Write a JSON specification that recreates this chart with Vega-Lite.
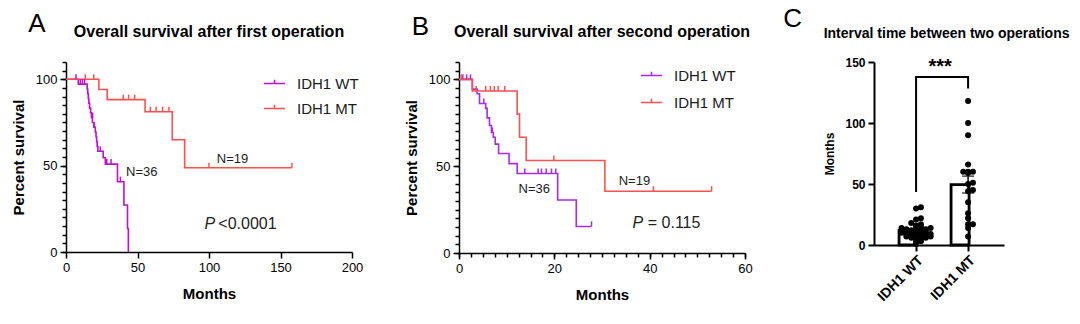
{
  "$schema": "https://vega.github.io/schema/vega-lite/v6.json",
  "autosize": {"type": "pad"},
  "padding": {"left": 11, "top": 6, "right": 0, "bottom": 0},
  "background": "white",
  "config": {
    "font": "Liberation Sans",
    "view": {"stroke": null},
    "axis": {"domainColor": "black", "domainWidth": 1.5, "tickColor": "black", "tickWidth": 1.5, "labelColor": "black", "titleColor": "black", "grid": false, "labelFont": "Liberation Sans", "titleFont": "Liberation Sans", "labelFontSize": 13, "titleFontSize": 15, "titleFontWeight": "bold", "labelPadding": 3, "labelFlush": false}
  },
  "datasets": {
    "kmA": [
      {"group": "IDH1 WT", "time": 0, "surv": 100}, {"group": "IDH1 WT", "time": 8.6, "surv": 97.2}, {"group": "IDH1 WT", "time": 14.8, "surv": 94.4}, {"group": "IDH1 WT", "time": 15.2, "surv": 91.7}, {"group": "IDH1 WT", "time": 15.6, "surv": 88.9}, {"group": "IDH1 WT", "time": 16, "surv": 86.1}, {"group": "IDH1 WT", "time": 16.5, "surv": 83.3}, {"group": "IDH1 WT", "time": 17.2, "surv": 80.6}, {"group": "IDH1 WT", "time": 17.8, "surv": 77.8}, {"group": "IDH1 WT", "time": 18.5, "surv": 75}, {"group": "IDH1 WT", "time": 19.5, "surv": 72.2}, {"group": "IDH1 WT", "time": 20.5, "surv": 69.4}, {"group": "IDH1 WT", "time": 21, "surv": 66.7}, {"group": "IDH1 WT", "time": 21.4, "surv": 63.9}, {"group": "IDH1 WT", "time": 21.8, "surv": 61.1}, {"group": "IDH1 WT", "time": 22.3, "surv": 58.3}, {"group": "IDH1 WT", "time": 26, "surv": 54.6}, {"group": "IDH1 WT", "time": 27.5, "surv": 50.9}, {"group": "IDH1 WT", "time": 36, "surv": 40.7}, {"group": "IDH1 WT", "time": 40.5, "surv": 27.2}, {"group": "IDH1 WT", "time": 43, "surv": 13.6}, {"group": "IDH1 WT", "time": 43.6, "surv": 0},
      {"group": "IDH1 MT", "time": 0, "surv": 100}, {"group": "IDH1 MT", "time": 23, "surv": 94.1}, {"group": "IDH1 MT", "time": 28.8, "surv": 88.2}, {"group": "IDH1 MT", "time": 55.3, "surv": 81.2}, {"group": "IDH1 MT", "time": 74.3, "surv": 65}, {"group": "IDH1 MT", "time": 83, "surv": 48.8}, {"group": "IDH1 MT", "time": 158, "surv": 48.8}
    ],
    "censA": [
      {"group": "IDH1 WT", "time": 7, "surv": 100}, {"group": "IDH1 WT", "time": 10, "surv": 97.2}, {"group": "IDH1 WT", "time": 11.5, "surv": 97.2}, {"group": "IDH1 WT", "time": 13, "surv": 97.2}, {"group": "IDH1 WT", "time": 18.6, "surv": 77.8}, {"group": "IDH1 WT", "time": 19.8, "surv": 72.2}, {"group": "IDH1 WT", "time": 24, "surv": 58.3}, {"group": "IDH1 WT", "time": 28.5, "surv": 50.9}, {"group": "IDH1 WT", "time": 31.5, "surv": 50.9}, {"group": "IDH1 WT", "time": 38, "surv": 40.7},
      {"group": "IDH1 MT", "time": 13.5, "surv": 100}, {"group": "IDH1 MT", "time": 19.4, "surv": 100}, {"group": "IDH1 MT", "time": 40, "surv": 88.2}, {"group": "IDH1 MT", "time": 43.8, "surv": 88.2}, {"group": "IDH1 MT", "time": 48, "surv": 88.2}, {"group": "IDH1 MT", "time": 59, "surv": 81.2}, {"group": "IDH1 MT", "time": 63, "surv": 81.2}, {"group": "IDH1 MT", "time": 67.5, "surv": 81.2}, {"group": "IDH1 MT", "time": 72, "surv": 81.2}, {"group": "IDH1 MT", "time": 100, "surv": 48.8}, {"group": "IDH1 MT", "time": 158, "surv": 48.8}
    ],
    "notesA": [
      {"kind": "letter", "label": "A", "time": -20.4, "surv": 127.1},
      {"kind": "heading", "label": "Overall survival after first operation", "time": 100, "surv": 124.4},
      {"kind": "n", "label": "N=36", "time": 42, "surv": 46.1},
      {"kind": "n", "label": "N=19", "time": 105.5, "surv": 53.8},
      {"kind": "p", "label": "P", "time": 96.8, "surv": 16.2},
      {"kind": "pval", "label": "<0.0001", "time": 106.5, "surv": 16.2}
    ],
    "kmB": [
      {"group": "IDH1 WT", "time": 0, "surv": 100}, {"group": "IDH1 WT", "time": 2.8, "surv": 94.4}, {"group": "IDH1 WT", "time": 3.8, "surv": 91.7}, {"group": "IDH1 WT", "time": 4.3, "surv": 86.1}, {"group": "IDH1 WT", "time": 5.6, "surv": 83.3}, {"group": "IDH1 WT", "time": 5.9, "surv": 77.8}, {"group": "IDH1 WT", "time": 6.4, "surv": 73.4}, {"group": "IDH1 WT", "time": 6.8, "surv": 69.4}, {"group": "IDH1 WT", "time": 7.2, "surv": 66.7}, {"group": "IDH1 WT", "time": 7.6, "surv": 62.7}, {"group": "IDH1 WT", "time": 8.3, "surv": 57.3}, {"group": "IDH1 WT", "time": 10.5, "surv": 51.5}, {"group": "IDH1 WT", "time": 12.2, "surv": 45.8}, {"group": "IDH1 WT", "time": 20.7, "surv": 30.5}, {"group": "IDH1 WT", "time": 24.6, "surv": 15.3}, {"group": "IDH1 WT", "time": 27.8, "surv": 15.3},
      {"group": "IDH1 MT", "time": 0, "surv": 100}, {"group": "IDH1 MT", "time": 2.8, "surv": 93.3}, {"group": "IDH1 MT", "time": 12.2, "surv": 80}, {"group": "IDH1 MT", "time": 12.7, "surv": 66.7}, {"group": "IDH1 MT", "time": 14.1, "surv": 53.3}, {"group": "IDH1 MT", "time": 30.6, "surv": 35.6}, {"group": "IDH1 MT", "time": 53, "surv": 35.6}
    ],
    "censB": [
      {"group": "IDH1 WT", "time": 0.8, "surv": 100}, {"group": "IDH1 WT", "time": 1.6, "surv": 100}, {"group": "IDH1 WT", "time": 2.4, "surv": 100}, {"group": "IDH1 WT", "time": 5.2, "surv": 86.1}, {"group": "IDH1 WT", "time": 7.0, "surv": 69.4}, {"group": "IDH1 WT", "time": 13.8, "surv": 45.8}, {"group": "IDH1 WT", "time": 16.6, "surv": 45.8}, {"group": "IDH1 WT", "time": 17.3, "surv": 45.8}, {"group": "IDH1 WT", "time": 18.3, "surv": 45.8}, {"group": "IDH1 WT", "time": 19.4, "surv": 45.8}, {"group": "IDH1 WT", "time": 20.3, "surv": 45.8}, {"group": "IDH1 WT", "time": 27.8, "surv": 15.3},
      {"group": "IDH1 MT", "time": 0.5, "surv": 100}, {"group": "IDH1 MT", "time": 3.6, "surv": 93.3}, {"group": "IDH1 MT", "time": 5.6, "surv": 93.3}, {"group": "IDH1 MT", "time": 6.6, "surv": 93.3}, {"group": "IDH1 MT", "time": 7.4, "surv": 93.3}, {"group": "IDH1 MT", "time": 8.2, "surv": 93.3}, {"group": "IDH1 MT", "time": 9.6, "surv": 93.3}, {"group": "IDH1 MT", "time": 19.9, "surv": 53.3}, {"group": "IDH1 MT", "time": 40.8, "surv": 35.6}, {"group": "IDH1 MT", "time": 53, "surv": 35.6}
    ],
    "notesB": [
      {"kind": "letter", "label": "B", "time": -8.1, "surv": 125.5},
      {"kind": "heading", "label": "Overall survival after second operation", "time": 30, "surv": 124.3},
      {"kind": "n", "label": "N=36", "time": 12.5, "surv": 36.6},
      {"kind": "n", "label": "N=19", "time": 33.5, "surv": 41.4},
      {"kind": "p", "label": "P", "time": 36.4, "surv": 17},
      {"kind": "pval", "label": "= 0.115", "time": 39.6, "surv": 17}
    ],
    "intervals": [
      {"group": "IDH1 WT", "months": 31}, {"group": "IDH1 WT", "months": 30}, {"group": "IDH1 WT", "months": 22}, {"group": "IDH1 WT", "months": 21}, {"group": "IDH1 WT", "months": 18}, {"group": "IDH1 WT", "months": 17}, {"group": "IDH1 WT", "months": 16}, {"group": "IDH1 WT", "months": 15}, {"group": "IDH1 WT", "months": 15}, {"group": "IDH1 WT", "months": 14}, {"group": "IDH1 WT", "months": 14}, {"group": "IDH1 WT", "months": 13}, {"group": "IDH1 WT", "months": 13}, {"group": "IDH1 WT", "months": 12}, {"group": "IDH1 WT", "months": 12}, {"group": "IDH1 WT", "months": 12}, {"group": "IDH1 WT", "months": 11}, {"group": "IDH1 WT", "months": 11}, {"group": "IDH1 WT", "months": 11}, {"group": "IDH1 WT", "months": 10}, {"group": "IDH1 WT", "months": 10}, {"group": "IDH1 WT", "months": 10}, {"group": "IDH1 WT", "months": 9}, {"group": "IDH1 WT", "months": 9}, {"group": "IDH1 WT", "months": 9}, {"group": "IDH1 WT", "months": 8}, {"group": "IDH1 WT", "months": 8}, {"group": "IDH1 WT", "months": 8}, {"group": "IDH1 WT", "months": 7}, {"group": "IDH1 WT", "months": 7}, {"group": "IDH1 WT", "months": 6}, {"group": "IDH1 WT", "months": 6}, {"group": "IDH1 WT", "months": 5}, {"group": "IDH1 WT", "months": 4}, {"group": "IDH1 WT", "months": 3}, {"group": "IDH1 WT", "months": 2},
      {"group": "IDH1 MT", "months": 118}, {"group": "IDH1 MT", "months": 100}, {"group": "IDH1 MT", "months": 90}, {"group": "IDH1 MT", "months": 66}, {"group": "IDH1 MT", "months": 60}, {"group": "IDH1 MT", "months": 60}, {"group": "IDH1 MT", "months": 60}, {"group": "IDH1 MT", "months": 59}, {"group": "IDH1 MT", "months": 51}, {"group": "IDH1 MT", "months": 50}, {"group": "IDH1 MT", "months": 45}, {"group": "IDH1 MT", "months": 44}, {"group": "IDH1 MT", "months": 35}, {"group": "IDH1 MT", "months": 26}, {"group": "IDH1 MT", "months": 22}, {"group": "IDH1 MT", "months": 17}, {"group": "IDH1 MT", "months": 17}, {"group": "IDH1 MT", "months": 14}, {"group": "IDH1 MT", "months": 7}
    ],
    "bracket": [
      {"group": "IDH1 WT", "months": 43.5, "step": 1},
      {"group": "IDH1 WT", "months": 137.7, "step": 2},
      {"group": "IDH1 MT", "months": 137.7, "step": 3},
      {"group": "IDH1 MT", "months": 128.2, "step": 4}
    ],
    "notesC": [
      {"kind": "letter", "label": "C", "group": "IDH1 WT", "months": 178.5},
      {"kind": "heading", "label": "Interval time between two operations", "group": "IDH1 WT", "months": 169.6},
      {"kind": "stars", "label": "***", "group": "IDH1 WT", "months": 145.5}
    ],
    "blank": [{"none": 0}]
  },
  "hconcat": [
    {
      "width": 286,
      "height": 190,
      "resolve": {"axis": {"y": "independent"}},
      "layer": [
        {
          "data": {"name": "kmA"},
          "mark": {"type": "line", "interpolate": "step-after", "strokeWidth": 1.6},
          "encoding": {
            "x": {"field": "time", "type": "quantitative", "scale": {"domain": [0, 200], "nice": false}, "axis": {"values": [0, 50, 100, 150, 200], "title": "Months", "tickSize": 6, "titlePadding": 12}},
            "y": {"field": "surv", "type": "quantitative", "scale": {"domain": [0, 110], "nice": false}, "axis": {"values": [0, 50, 100], "tickSize": 6, "title": "Percent survival", "titlePadding": 8.5, "orient": "left"}},
            "color": {"field": "group", "type": "nominal", "scale": {"domain": ["IDH1 WT", "IDH1 MT"], "range": ["#C010D0", "#FF5050"]}, "legend": {"orient": "none", "legendX": 197, "legendY": 10, "title": null, "symbolType": "M-1,0H1M0,0V-0.35", "symbolSize": 441, "symbolStrokeWidth": 1.5, "symbolFillColor": "transparent", "labelFontSize": 15, "labelFont": "Liberation Sans", "labelColor": "#1a1a1a", "labelOffset": 11, "rowPadding": 5}}
          }
        },
        {
          "data": {"name": "censA"},
          "mark": {"type": "point", "shape": "M0,0V-1", "filled": false, "size": 100, "strokeWidth": 1.5, "opacity": 1},
          "encoding": {
            "x": {"field": "time", "type": "quantitative"},
            "y": {"field": "surv", "type": "quantitative", "axis": {"values": [0, 5, 10, 15, 20, 25, 30, 35, 40, 45, 50, 55, 60, 65, 70, 75, 80, 85, 90, 95, 100, 105, 110], "labels": false, "domain": false, "title": null, "tickSize": 4, "orient": "left"}},
            "color": {"field": "group", "type": "nominal", "legend": null}
          }
        },
        {
          "data": {"name": "notesA"},
          "transform": [{"filter": "datum.kind === 'letter'"}],
          "mark": {"type": "text", "fontSize": 26, "align": "center", "baseline": "alphabetic", "color": "black"},
          "encoding": {"x": {"field": "time", "type": "quantitative"}, "y": {"field": "surv", "type": "quantitative", "axis": null}, "text": {"field": "label"}}
        },
        {
          "data": {"name": "notesA"},
          "transform": [{"filter": "datum.kind === 'heading'"}],
          "mark": {"type": "text", "fontSize": 16, "fontWeight": "bold", "align": "center", "baseline": "alphabetic", "color": "black"},
          "encoding": {"x": {"field": "time", "type": "quantitative"}, "y": {"field": "surv", "type": "quantitative", "axis": null}, "text": {"field": "label"}}
        },
        {
          "data": {"name": "notesA"},
          "transform": [{"filter": "datum.kind === 'n'"}],
          "mark": {"type": "text", "fontSize": 13, "align": "left", "baseline": "middle", "color": "#222"},
          "encoding": {"x": {"field": "time", "type": "quantitative"}, "y": {"field": "surv", "type": "quantitative", "axis": null}, "text": {"field": "label"}}
        },
        {
          "data": {"name": "notesA"},
          "transform": [{"filter": "datum.kind === 'p'"}],
          "mark": {"type": "text", "fontSize": 16, "fontStyle": "italic", "align": "left", "baseline": "middle", "color": "#222"},
          "encoding": {"x": {"field": "time", "type": "quantitative"}, "y": {"field": "surv", "type": "quantitative", "axis": null}, "text": {"field": "label"}}
        },
        {
          "data": {"name": "notesA"},
          "transform": [{"filter": "datum.kind === 'pval'"}],
          "mark": {"type": "text", "fontSize": 16, "align": "left", "baseline": "middle", "color": "#222"},
          "encoding": {"x": {"field": "time", "type": "quantitative"}, "y": {"field": "surv", "type": "quantitative", "axis": null}, "text": {"field": "label"}}
        }
      ]
    },
    {
      "width": 87,
      "height": 10,
      "data": {"name": "blank"},
      "mark": {"type": "point", "opacity": 0, "size": 1},
      "encoding": {}
    },
    {
      "width": 286,
      "height": 191,
      "resolve": {"axis": {"y": "independent", "x": "independent"}},
      "layer": [
        {
          "data": {"name": "kmB"},
          "mark": {"type": "line", "interpolate": "step-after", "strokeWidth": 1.6},
          "encoding": {
            "x": {"field": "time", "type": "quantitative", "scale": {"domain": [0, 60], "nice": false}, "axis": {"values": [0, 20, 40, 60], "tickSize": 6, "title": "Months", "titlePadding": 12, "orient": "bottom"}},
            "y": {"field": "surv", "type": "quantitative", "scale": {"domain": [0, 110], "nice": false}, "axis": {"values": [0, 50, 100], "tickSize": 6, "title": "Percent survival", "titlePadding": 8.5, "orient": "left"}},
            "color": {"field": "group", "type": "nominal", "scale": {"domain": ["IDH1 WT", "IDH1 MT"], "range": ["#A62AF0", "#FF5050"]}, "legend": {"orient": "none", "legendX": 181, "legendY": 2, "title": null, "symbolType": "M-1,0H1M0,0V-0.35", "symbolSize": 441, "symbolStrokeWidth": 1.5, "symbolFillColor": "transparent", "labelFontSize": 15, "labelFont": "Liberation Sans", "labelColor": "#1a1a1a", "labelOffset": 11, "rowPadding": 7}}
          }
        },
        {
          "data": {"name": "censB"},
          "mark": {"type": "point", "shape": "M0,0V-1", "filled": false, "size": 100, "strokeWidth": 1.5, "opacity": 1},
          "encoding": {
            "x": {"field": "time", "type": "quantitative", "axis": {"values": [0, 2.5, 5, 7.5, 10, 12.5, 15, 17.5, 20, 22.5, 25, 27.5, 30, 32.5, 35, 37.5, 40, 42.5, 45, 47.5, 50, 52.5, 55, 57.5, 60], "labels": false, "domain": false, "title": null, "tickSize": 4, "orient": "bottom"}},
            "y": {"field": "surv", "type": "quantitative", "axis": {"values": [0, 5, 10, 15, 20, 25, 30, 35, 40, 45, 50, 55, 60, 65, 70, 75, 80, 85, 90, 95, 100, 105, 110], "labels": false, "domain": false, "title": null, "tickSize": 4, "orient": "left"}},
            "color": {"field": "group", "type": "nominal", "legend": null}
          }
        },
        {
          "data": {"name": "notesB"},
          "transform": [{"filter": "datum.kind === 'letter'"}],
          "mark": {"type": "text", "fontSize": 26, "align": "center", "baseline": "alphabetic", "color": "black"},
          "encoding": {"x": {"field": "time", "type": "quantitative", "axis": null}, "y": {"field": "surv", "type": "quantitative", "axis": null}, "text": {"field": "label"}}
        },
        {
          "data": {"name": "notesB"},
          "transform": [{"filter": "datum.kind === 'heading'"}],
          "mark": {"type": "text", "fontSize": 16, "fontWeight": "bold", "align": "center", "baseline": "alphabetic", "color": "black"},
          "encoding": {"x": {"field": "time", "type": "quantitative", "axis": null}, "y": {"field": "surv", "type": "quantitative", "axis": null}, "text": {"field": "label"}}
        },
        {
          "data": {"name": "notesB"},
          "transform": [{"filter": "datum.kind === 'n'"}],
          "mark": {"type": "text", "fontSize": 13, "align": "left", "baseline": "middle", "color": "#222"},
          "encoding": {"x": {"field": "time", "type": "quantitative", "axis": null}, "y": {"field": "surv", "type": "quantitative", "axis": null}, "text": {"field": "label"}}
        },
        {
          "data": {"name": "notesB"},
          "transform": [{"filter": "datum.kind === 'p'"}],
          "mark": {"type": "text", "fontSize": 16, "fontStyle": "italic", "align": "left", "baseline": "middle", "color": "#222"},
          "encoding": {"x": {"field": "time", "type": "quantitative", "axis": null}, "y": {"field": "surv", "type": "quantitative", "axis": null}, "text": {"field": "label"}}
        },
        {
          "data": {"name": "notesB"},
          "transform": [{"filter": "datum.kind === 'pval'"}],
          "mark": {"type": "text", "fontSize": 16, "align": "left", "baseline": "middle", "color": "#222"},
          "encoding": {"x": {"field": "time", "type": "quantitative", "axis": null}, "y": {"field": "surv", "type": "quantitative", "axis": null}, "text": {"field": "label"}}
        }
      ]
    },
    {
      "width": 109,
      "height": 10,
      "data": {"name": "blank"},
      "mark": {"type": "point", "opacity": 0, "size": 1},
      "encoding": {}
    },
    {
      "width": 130,
      "height": 183,
      "layer": [
        {
          "data": {"name": "intervals"},
          "mark": {"type": "bar", "fill": "white", "stroke": "black", "strokeWidth": 2.8},
          "encoding": {
            "x": {"field": "group", "type": "nominal", "sort": ["IDH1 WT", "IDH1 MT"], "scale": {"paddingInner": 0.346, "paddingOuter": 0.423, "align": 0.57}, "axis": {"title": null, "labelAngle": -45, "labelFontSize": 14, "labelFontWeight": "bold", "tickSize": 6, "domainWidth": 2, "tickWidth": 2, "labelPadding": 2}},
            "y": {"aggregate": "mean", "field": "months", "type": "quantitative", "title": "Months", "scale": {"domain": [0, 150], "nice": false}, "axis": {"values": [0, 50, 100, 150], "title": "Months", "titleFontSize": 12, "titlePadding": 8, "labelFontSize": 12, "labelFontWeight": "bold", "tickSize": 6, "domainWidth": 2, "tickWidth": 2}}
          }
        },
        {
          "data": {"name": "intervals"},
          "mark": {"type": "errorbar", "extent": "stderr", "ticks": {"size": 12, "color": "black", "thickness": 1.5}, "rule": {"color": "black", "strokeWidth": 1.5}},
          "encoding": {
            "x": {"field": "group", "type": "nominal", "sort": ["IDH1 WT", "IDH1 MT"]},
            "y": {"field": "months", "type": "quantitative", "title": "Months"}
          }
        },
        {
          "data": {"name": "intervals"},
          "transform": [
            {"calculate": "floor(datum.months / 4)", "as": "bin"},
            {"window": [{"op": "row_number", "as": "r"}], "groupby": ["group", "bin"], "sort": [{"field": "months"}]},
            {"calculate": "((datum.r - 1) % 7) + 1", "as": "r7"},
            {"calculate": "(datum.r7 % 2 === 0 ? 1 : -1) * floor(datum.r7 / 2)", "as": "off"}
          ],
          "mark": {"type": "circle", "size": 36, "color": "black", "opacity": 1},
          "encoding": {
            "x": {"field": "group", "type": "nominal", "sort": ["IDH1 WT", "IDH1 MT"]},
            "xOffset": {"field": "off", "type": "quantitative", "scale": {"domain": [-3.5, 3.5]}},
            "y": {"field": "months", "type": "quantitative", "title": "Months"}
          }
        },
        {
          "data": {"name": "bracket"},
          "mark": {"type": "line", "color": "black", "strokeWidth": 2},
          "encoding": {
            "x": {"field": "group", "type": "nominal", "sort": ["IDH1 WT", "IDH1 MT"]},
            "y": {"field": "months", "type": "quantitative", "title": "Months"},
            "order": {"field": "step", "type": "quantitative"}
          }
        },
        {
          "data": {"name": "notesC"},
          "transform": [{"filter": "datum.kind === 'stars'"}],
          "mark": {"type": "text", "fontSize": 20, "fontWeight": "bold", "align": "center", "baseline": "middle", "dx": 24, "color": "black"},
          "encoding": {"x": {"field": "group", "type": "nominal", "sort": ["IDH1 WT", "IDH1 MT"]}, "y": {"field": "months", "type": "quantitative", "title": "Months"}, "text": {"field": "label"}}
        },
        {
          "data": {"name": "notesC"},
          "transform": [{"filter": "datum.kind === 'letter'"}],
          "mark": {"type": "text", "fontSize": 26, "align": "center", "baseline": "alphabetic", "dx": -123.5, "color": "black"},
          "encoding": {"x": {"field": "group", "type": "nominal", "sort": ["IDH1 WT", "IDH1 MT"]}, "y": {"field": "months", "type": "quantitative", "title": "Months"}, "text": {"field": "label"}}
        },
        {
          "data": {"name": "notesC"},
          "transform": [{"filter": "datum.kind === 'heading'"}],
          "mark": {"type": "text", "fontSize": 14, "fontWeight": "bold", "align": "center", "baseline": "alphabetic", "dx": 30.5, "color": "black"},
          "encoding": {"x": {"field": "group", "type": "nominal", "sort": ["IDH1 WT", "IDH1 MT"]}, "y": {"field": "months", "type": "quantitative", "title": "Months"}, "text": {"field": "label"}}
        }
      ]
    }
  ],
  "spacing": 10,
  "bounds": "flush",
  "resolve": {"scale": {"color": "independent", "x": "independent", "y": "independent"}, "legend": {"color": "independent"}}
}
